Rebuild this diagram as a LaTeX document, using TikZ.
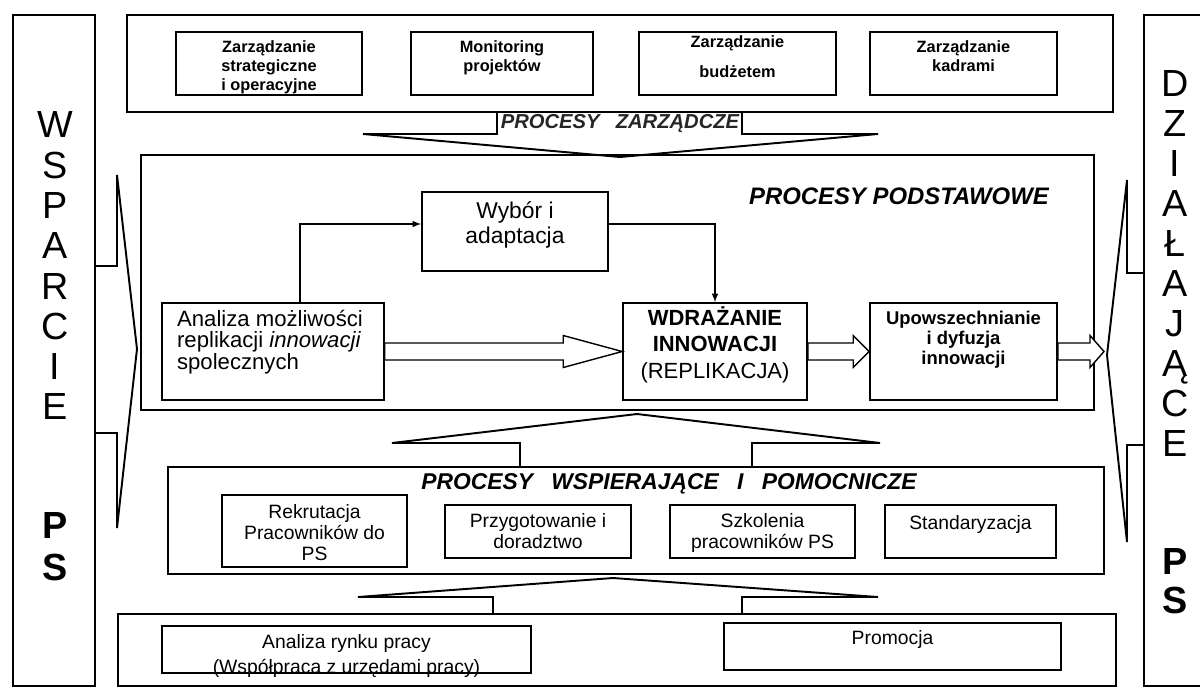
\documentclass[tikz,border=0pt]{standalone}
\usepackage{fontspec}
\setmainfont{Liberation Sans}
\usetikzlibrary{fit,calc}

\newcommand{\topfont}{\bfseries\fontsize{9.3}{10.6}\selectfont}
\newcommand{\lowfont}{\fontsize{11}{12.2}\selectfont}
% hollow block arrow between two points
\newcommand{\fatarrow}[3]{%
  \draw[fat] let \p1=(#1), \p2=(#2) in
    (\x1,\y1+0.17cm) -- (\x2-#3,\y1+0.17cm) -- (\x2-#3,\y1+0.32cm) -- (\x2,\y1)
    -- (\x2-#3,\y1-0.32cm) -- (\x2-#3,\y1-0.17cm) -- (\x1,\y1-0.17cm) -- cycle;}

\tikzset{
  frame/.style={draw, line width=1.4pt, inner sep=0pt},
  box/.style={draw, line width=0.9pt, inner sep=0pt, align=center},
  toplbl/.style={anchor=north, inner sep=0pt, align=center, yshift=-#1},
  flow/.style={->, >=latex, line width=0.7pt},
  fat/.style={line width=0.8pt, fill=white},
  chev/.style={line width=1.1pt, line join=miter},
  title/.style={font=\bfseries\itshape\fontsize{13}{15}\selectfont, inner sep=0pt},
  letter/.style={inner sep=0pt, text height=15.4pt, text depth=0pt, font=\fontsize{21.5}{22}\selectfont},
}

\begin{document}
\begin{tikzpicture}[x=0.02cm, y=-0.02cm]
  \useasboundingbox (0,0) rectangle (1200,697);

  % outer frames
  \node[frame, fit={(13,15) (95,686)}] (wsparcie) {};
  \node[frame, fit={(1144,15) (1215,686)}] (dzialajace) {};
  \node[frame, fit={(127,15) (1113,112)}] (zarzadcze) {};
  \node[frame, fit={(141,155) (1094,410)}] (podstawowe) {};
  \node[frame, fit={(168,467) (1104,574)}] (wspierajace) {};
  \node[frame, fit={(118,614) (1116,686)}] (dolne) {};

  % side columns
  \foreach \l [count=\i] in {W,S,P,A,R,C,I,E}
    \node[letter] (ws\i) at (55,{84+40.3*\i}) {\l};
  \node[letter, font=\bfseries\fontsize{21.5}{22}\selectfont] (wsp) at (55,525) {P};
  \node[letter, font=\bfseries\fontsize{21.5}{22}\selectfont] (wss) at (55,567) {S};
  \foreach \l [count=\i] in {D,Z,I,A,Ł,A,J,Ą,C,E}
    \node[letter] (dz\i) at (1175,{43+40*\i}) {\l};
  \node[letter, font=\bfseries\fontsize{21.5}{22}\selectfont] (dzp) at (1175,561) {P};
  \node[letter, font=\bfseries\fontsize{21.5}{22}\selectfont] (dzs) at (1175,600) {S};

  % chevrons
  \draw[chev] (95,266) -- (117,266) -- (117,175) -- (137,349) -- (117,528) -- (117,433) -- (95,433);
  \draw[chev] (1144,273) -- (1127,273) -- (1127,180) -- (1107,355) -- (1127,542) -- (1127,445) -- (1144,445);
  \draw[chev] (497,112) -- (497,134) -- (363,134) -- (620,157) -- (878,134) -- (742,134) -- (742,112);
  \draw[chev] (520,467) -- (520,443) -- (392,443) -- (637,414) -- (880,443) -- (752,443) -- (752,467);
  \draw[chev] (493,614) -- (493,597) -- (358,597) -- (613,578) -- (878,597) -- (742,597) -- (742,614);

  % titles
  \node[inner sep=0pt, font=\bfseries\itshape\fontsize{11.5}{13}\selectfont, text=black!85] (tzarz) at (620,123) {PROCESY\hspace{0.8em}ZARZĄDCZE};
  \node[title, font=\bfseries\itshape\fontsize{13.6}{15}\selectfont] (tpodst) at (899,196) {PROCESY PODSTAWOWE};
  \node[title] (twsp) at (669,484) {PROCESY\hspace{0.8em}WSPIERAJĄCE\hspace{0.8em}I\hspace{0.8em}POMOCNICZE};

  % zarzadcze
  \node[box, fit={(176,32) (362,95)}, label={[toplbl=0.19cm, font=\topfont]north:{Zarządzanie\\strategiczne\\i operacyjne}}] (strat) {};
  \node[box, fit={(411,32) (593,95)}, label={[toplbl=0.19cm, font=\topfont]north:{Monitoring\\projektów}}] (monitor) {};
  \node[box, fit={(639,32) (836,95)}, label={[toplbl=0.09cm, font=\topfont]north:{Zarządzanie\\[6.4pt]budżetem}}] (budzet) {};
  \node[box, fit={(870,32) (1057,95)}, label={[toplbl=0.19cm, font=\topfont]north:{Zarządzanie\\kadrami}}] (kadry) {};

  % podstawowe
  \node[box, fit={(422,192) (608,271)}, label={[toplbl=0.2cm, font=\fontsize{13}{14.2}\selectfont]north:{Wybór i\\adaptacja}}] (wybor) {};
  \node[box, fit={(162,303) (384,400)}, label={[toplbl=0.15cm, align=left, xshift=-0.06cm, font=\fontsize{12.6}{12.3}\selectfont]north:{Analiza możliwości\\ replikacji \textit{innowacji}\\spolecznych}}] (analiza) {};
  \node[box, fit={(623,303) (807,400)}, label={[toplbl=0.08cm, font=\fontsize{12.5}{15}\selectfont]north:{\textbf{WDRAŻANIE}\\\textbf{INNOWACJI}\\(REPLIKACJA)}}] (wdrazanie) {};
  \node[box, fit={(870,303) (1057,400)}, label={[toplbl=0.17cm, font=\bfseries\fontsize{10.5}{11.3}\selectfont]north:{Upowszechnianie\\i dyfuzja\\innowacji}}] (upow) {};
  \coordinate (wyjscie) at (1104,351.5);

  \draw[flow] ([xshift=0.54cm]analiza.north) |- ([yshift=0.15cm]wybor.west);
  \draw[flow] ([yshift=0.15cm]wybor.east) -| (wdrazanie.north);
  \fatarrow{analiza.east}{wdrazanie.west}{1.18cm}
  \fatarrow{wdrazanie.east}{upow.west}{0.32cm}
  \fatarrow{upow.east}{wyjscie}{0.28cm}

  % wspierajace
  \node[box, fit={(222,495) (407,567)}, label={[toplbl=0.19cm, font=\lowfont]north:{Rekrutacja\\Pracowników do\\PS}}] (rekrut) {};
  \node[box, fit={(445,505) (631,558)}, label={[toplbl=0.17cm, font=\lowfont]north:{Przygotowanie i\\doradztwo}}] (przyg) {};
  \node[box, fit={(670,505) (855,558)}, label={[toplbl=0.17cm, font=\lowfont]north:{Szkolenia\\pracowników PS}}] (szkol) {};
  \node[box, fit={(885,505) (1056,558)}, label={[toplbl=0.21cm, font=\lowfont]north:{Standaryzacja}}] (standard) {};

  % dolne
  \node[box, fit={(162,626) (531,673)}, label={[toplbl=0.18cm, font=\fontsize{11}{14.2}\selectfont]north:{Analiza rynku pracy\\(Współpraca  z urzędami pracy)}}] (rynek) {};
  \node[box, fit={(724,623) (1061,670)}, label={[toplbl=0.16cm, font=\fontsize{11}{14.2}\selectfont]north:{Promocja}}] (promocja) {};
\end{tikzpicture}
\end{document}
